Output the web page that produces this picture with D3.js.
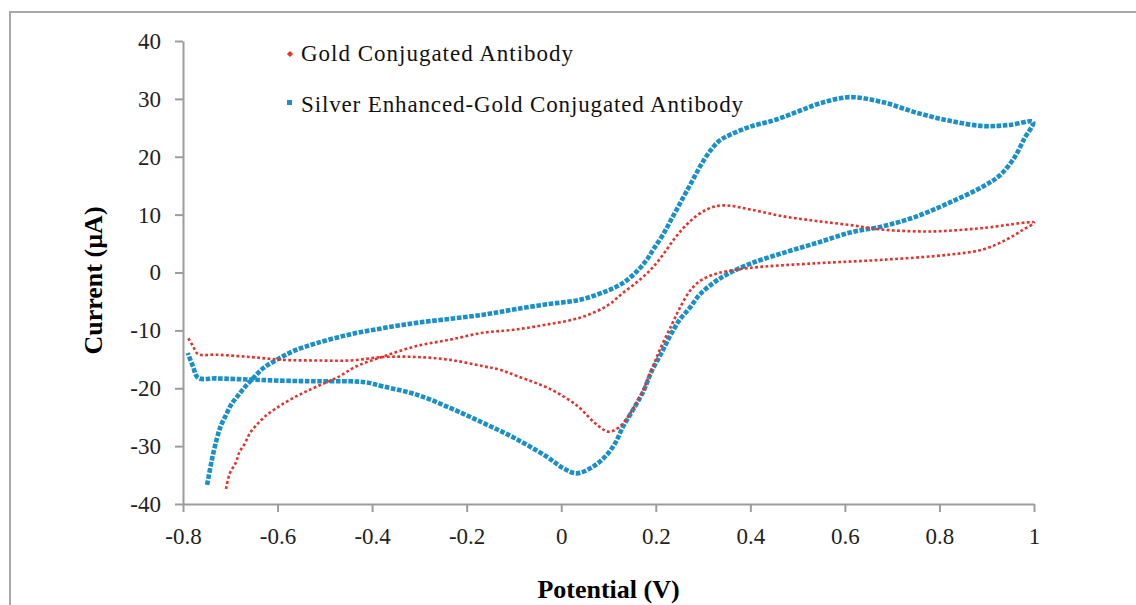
<!DOCTYPE html>
<html>
<head>
<meta charset="utf-8">
<script src="https://cdn.jsdelivr.net/npm/d3@7"></script>
<style>
    body { margin: 0; background: #fff; }
    svg { display: block; }
</style>
</head>
<body>
<svg></svg>
<script>
// data, in scan order (potential V, current uA)
var goldE = [-0.709, -0.701, -0.688, -0.681, -0.669, -0.658, -0.644, -0.627, -0.602, -0.574,
    -0.546, -0.517, -0.475, -0.433, -0.376, -0.306, -0.235, -0.165, -0.101, -0.031,
    0.040, 0.096, 0.131, 0.167, 0.195, 0.219, 0.244, 0.272, 0.308, 0.343,
    0.399, 0.470, 0.540, 0.611, 0.681, 0.787, 0.893, 1.0,
    0.977, 0.942, 0.893, 0.822, 0.681, 0.540, 0.399, 0.350, 0.322, 0.293,
    0.272, 0.251, 0.234, 0.212, 0.191, 0.167, 0.124, 0.100, 0.071, 0.035,
    -0.022, -0.093, -0.130, -0.165, -0.235, -0.306, -0.376, -0.447, -0.517, -0.588,
    -0.658, -0.729, -0.768, -0.779, -0.790];
var goldI = [-37.4, -34.7, -32.8, -31.1, -29.5, -27.7, -26.3, -24.9, -23.4, -22.0,
    -20.8, -19.7, -18.2, -16.2, -14.5, -12.7, -11.6, -10.4, -9.9, -9.0,
    -7.8, -5.8, -3.5, -1.2, 1.0, 3.5, 6.3, 8.8, 10.9, 11.6,
    10.9, 9.7, 8.9, 8.2, 7.4, 7.1, 7.7, 8.6,
    7.4, 5.7, 4.0, 3.1, 2.2, 1.6, 0.8, 0.2, -0.35, -1.5,
    -3.2, -6.1, -9.0, -12.7, -16.8, -21.4, -26.6, -27.5, -26.0, -23.1,
    -20.2, -17.9, -16.8, -16.2, -15.1, -14.6, -14.6, -15.2, -15.2, -15.1,
    -14.6, -14.2, -14.1, -12.7, -11.2];

var silverE = [-0.749, -0.739, -0.729, -0.720, -0.709, -0.698, -0.685, -0.669, -0.651, -0.630,
    -0.602, -0.567, -0.517, -0.447, -0.376, -0.306, -0.235, -0.165, -0.101, -0.031,
    0.040, 0.096, 0.131, 0.160, 0.181, 0.195, 0.215, 0.235, 0.255, 0.275,
    0.295, 0.315, 0.335, 0.360, 0.400, 0.450, 0.500, 0.550, 0.611, 0.681, 0.752,
    0.822, 0.893, 0.949, 0.998,
    0.980, 0.958, 0.928, 0.893, 0.822, 0.752, 0.681, 0.611, 0.540, 0.470,
    0.399, 0.350, 0.322, 0.293, 0.272, 0.251, 0.230, 0.212, 0.191, 0.174,
    0.152, 0.131, 0.114, 0.093, 0.068, 0.033, 0.004, -0.031, -0.101, -0.165,
    -0.235, -0.306, -0.376, -0.411, -0.447, -0.517, -0.588, -0.658, -0.729, -0.768,
    -0.779, -0.790];
var silverI = [-36.7, -32.4, -28.9, -26.5, -24.6, -22.8, -21.4, -19.8, -18.2, -16.5,
    -15.1, -13.6, -12.2, -10.7, -9.6, -8.7, -8.0, -7.3, -6.4, -5.5,
    -4.7, -3.2, -1.8, 0.2, 2.2, 4.0, 6.5, 9.5, 12.5, 15.5,
    18.5, 21.0, 22.8, 23.9, 25.2, 26.3, 27.8, 29.3, 30.3, 29.4, 27.6,
    26.2, 25.3, 25.5, 26.0,
    23.2, 19.8, 16.8, 14.9, 12.1, 9.7, 8.0, 6.9, 5.1, 3.4,
    1.5, -0.35, -1.8, -3.8, -6.1, -8.1, -11.0, -13.9, -17.1, -20.5,
    -23.7, -26.6, -29.5, -31.8, -33.5, -34.7, -33.8, -31.8, -28.5, -26.0,
    -23.4, -21.1, -19.7, -19.0, -18.8, -18.8, -18.7, -18.5, -18.3, -18.2,
    -16.2, -13.9];

var xTicks = [-0.8, -0.6, -0.4, -0.2, 0, 0.2, 0.4, 0.6, 0.8, 1];
var yTicks = [-40, -30, -20, -10, 0, 10, 20, 30, 40];
var seriesNames = ["Gold Conjugated Antibody", "Silver Enhanced-Gold Conjugated Antibody"];

var svgWidth = 1136, svgHeight = 605;
var margin = {top: 41, left: 183, bottom: 101, right: 102};
var width = svgWidth - margin.left - margin.right;
var height = svgHeight - margin.top - margin.bottom;

var red = "#e2342e", blue = "#1b8fc7", axisColor = "#9c9c9c";

var svg = d3.select("svg")
    .attr("width", svgWidth)
    .attr("height", svgHeight);

// outer frame, runs off the right and bottom edge
svg.append("rect")
    .attr("x", 10)
    .attr("y", 12)
    .attr("width", 1200)
    .attr("height", 700)
    .attr("fill", "#fff")
    .attr("stroke", "#a8a8a8")
    .attr("stroke-width", 2);

var g = svg.append("g")
    .attr("transform", "translate(" + margin.left + "," + margin.top + ")");

var x = d3.scaleLinear().domain([-0.8, 1]).range([0, width]);
var y = d3.scaleLinear().domain([-40, 40]).range([height, 0]);

// plain hyphen for negatives, like the original
function plain(d) {
    return String(+d.toFixed(1));
}

var xAxis = g.append("g")
    .attr("transform", "translate(0," + height + ")")
    .call(d3.axisBottom(x).tickValues(xTicks).tickSize(8).tickSizeOuter(0).tickFormat(plain));

var yAxis = g.append("g")
    .call(d3.axisLeft(y).tickValues(yTicks).tickSize(8).tickSizeOuter(0).tickFormat(plain));

[xAxis, yAxis].forEach(function (a) {
    a.select(".domain").attr("stroke", axisColor).attr("stroke-width", 2);
    a.selectAll(".tick line").attr("stroke", axisColor).attr("stroke-width", 2);
    a.selectAll(".tick text")
        .attr("fill", "#222")
        .style("font-family", "'Liberation Serif', serif")
        .style("font-size", "23px");
});
xAxis.selectAll(".tick text").attr("dy", "1.25em");
yAxis.selectAll(".tick text").attr("x", -22);

// axis titles
svg.append("text")
    .attr("x", margin.left + width / 2)
    .attr("y", 598)
    .attr("text-anchor", "middle")
    .style("font-family", "'Liberation Serif', serif")
    .style("font-weight", "bold")
    .style("font-size", "26px")
    .text("Potential (V)");

svg.append("text")
    .attr("transform", "translate(102," + (margin.top + height / 2 + 8) + ") rotate(-90)")
    .attr("text-anchor", "middle")
    .style("font-family", "'Liberation Serif', serif")
    .style("font-weight", "bold")
    .style("font-size", "26px")
    .text("Current (\u00b5A)");

var line = d3.line()
    .x(function (d) { return x(d[0]); })
    .y(function (d) { return y(d[1]); })
    .curve(d3.curveCatmullRom);

var gold = goldE.map(function (e, i) { return [e, goldI[i]]; });
var silver = silverE.map(function (e, i) { return [e, silverI[i]]; });

g.append("path")
    .datum(silver)
    .attr("fill", "none")
    .attr("stroke", blue)
    .attr("stroke-width", 4.6)
    .attr("stroke-dasharray", "4.6,1.6")
    .attr("d", line);

g.append("path")
    .datum(gold)
    .attr("fill", "none")
    .attr("stroke", red)
    .attr("stroke-width", 2.6)
    .attr("stroke-dasharray", "2.8,2.4")
    .attr("d", line);

// legend
var legendWidths = [272, 442];
var legend = svg.append("g").attr("transform", "translate(290,54)");
legend.append("rect")
    .attr("x", -2.2).attr("y", -2.2).attr("width", 4.4).attr("height", 4.4)
    .attr("transform", "rotate(45)")
    .attr("fill", red);
legend.append("rect")
    .attr("x", -3).attr("y", 46).attr("width", 5).attr("height", 5)
    .attr("fill", blue);
legend.selectAll("text")
    .data(seriesNames)
    .enter()
    .append("text")
    .attr("x", 11)
    .attr("y", function (d, i) { return 7 + i * 51; })
    .attr("textLength", function (d, i) { return legendWidths[i]; })
    .attr("lengthAdjust", "spacing")
    .style("font-family", "'Liberation Serif', serif")
    .style("font-size", "23px")
    .attr("fill", "#111")
    .text(function (d) { return d; });
</script>
</body>
</html>
